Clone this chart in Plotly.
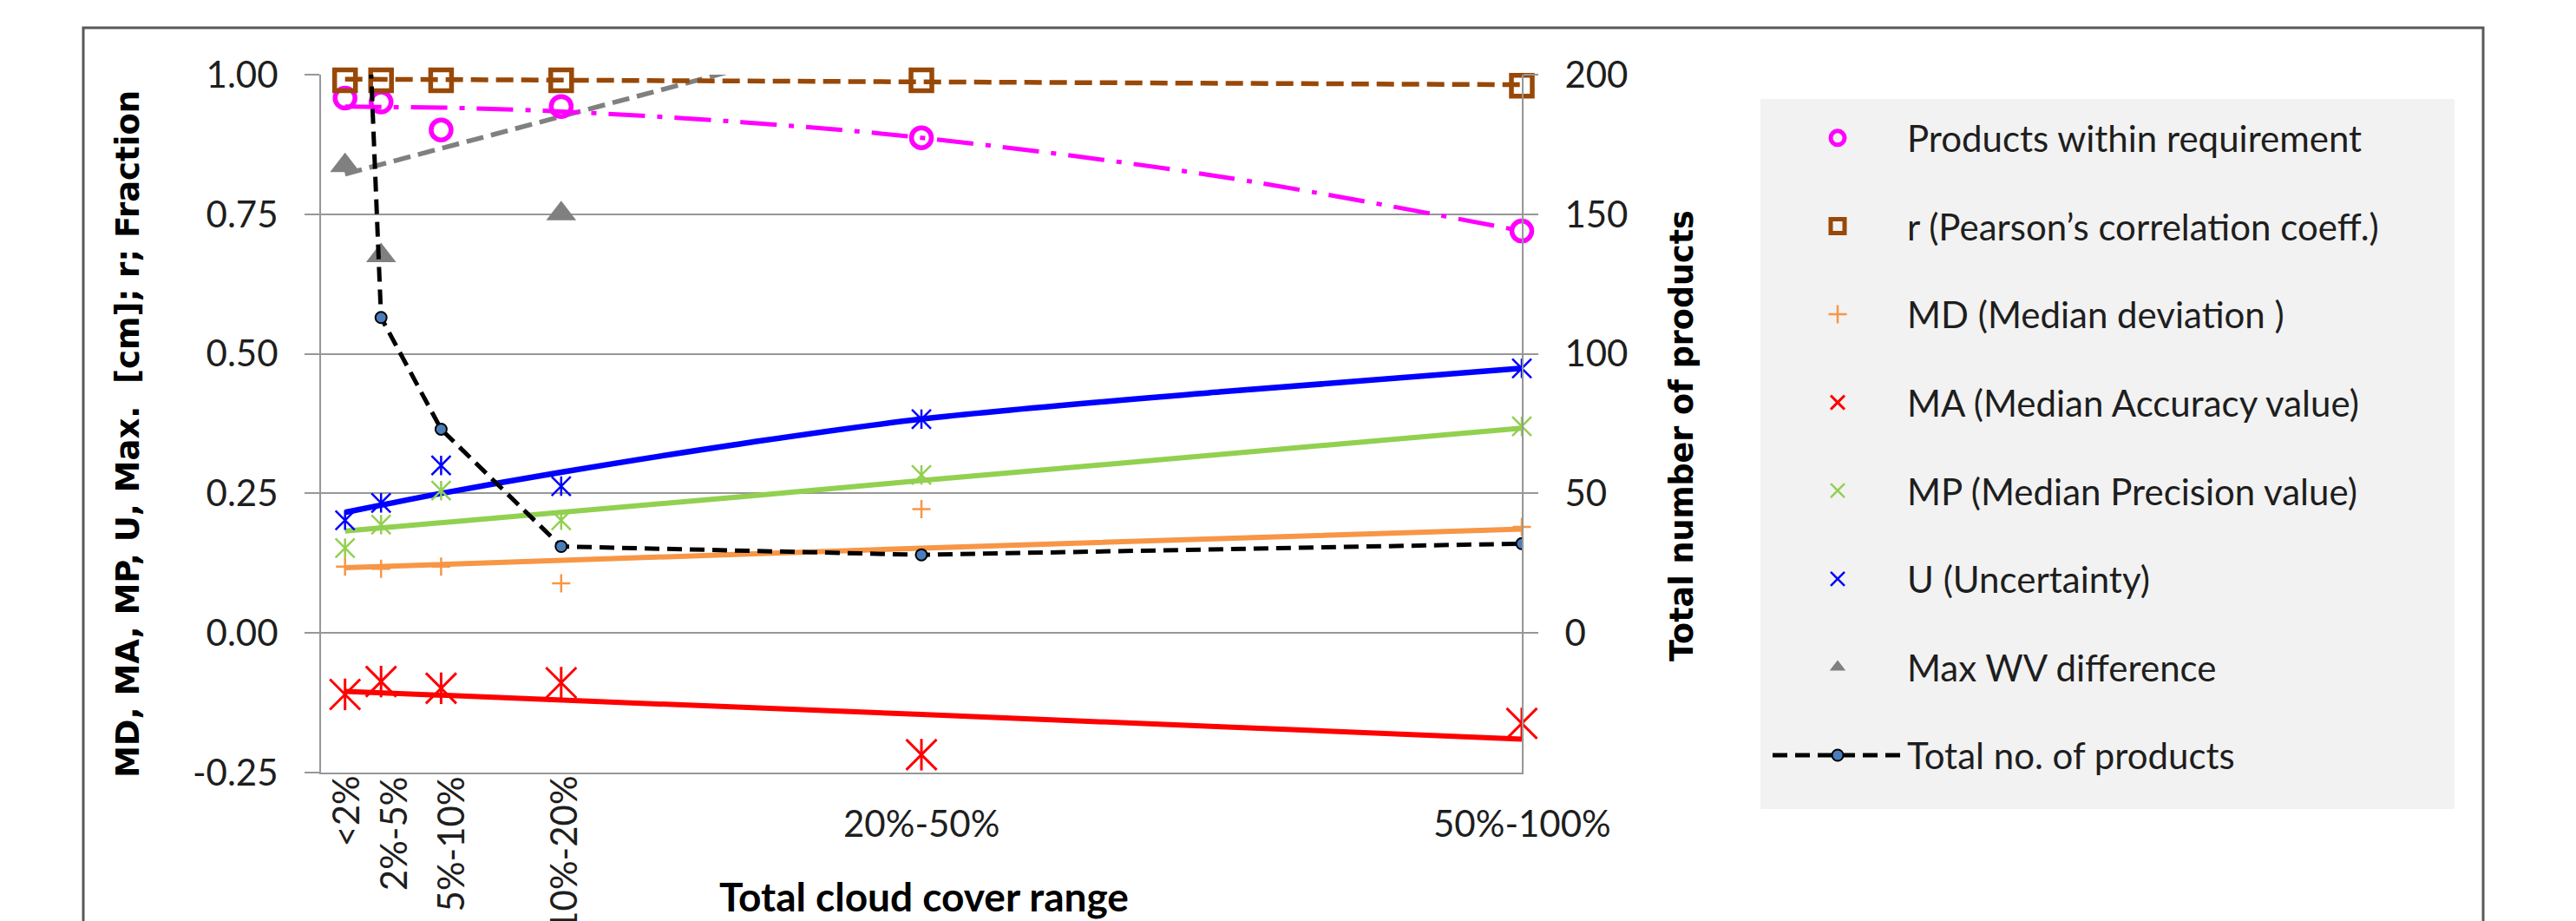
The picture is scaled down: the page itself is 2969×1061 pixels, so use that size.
import plotly.graph_objects as go

# ---------------- data ----------------
CATEGORIES = ["<2%", "2%-5%", "5%-10%", "10%-20%", "20%-50%", "50%-100%"]
CLOUD_UPPER = [2, 5, 10, 20, 50, 100]          # x position of each range (upper bound, %)

PRODUCTS_WITHIN = [0.958, 0.951, 0.901, 0.943, 0.887, 0.720]
PEARSON_R = [0.99, 0.99, 0.99, 0.99, 0.99, 0.98]
MD_VALUES = [0.119, 0.115, 0.119, 0.089, 0.222, 0.190]
MA_VALUES = [-0.110, -0.087, -0.099, -0.089, -0.218, -0.162]
MP_VALUES = [0.152, 0.194, 0.255, 0.202, 0.283, 0.370]
U_VALUES = [0.202, 0.233, 0.300, 0.263, 0.383, 0.474]
MAX_WV_DIFF = [0.837, 0.676, None, 0.751, None, None]
TOTAL_PRODUCTS = [430, 113, 73, 31, 28, 32]

# trend lines as drawn in the reference (values read at these x positions)
TREND_X = [2, 5, 10, 20, 35, 50, 75, 100]
TREND_PRODUCTS = [0.943, 0.942, 0.941, 0.934, 0.915, 0.887, 0.817, 0.720]
TREND_R = [0.992, 0.9917, 0.9912, 0.9902, 0.9887, 0.9871, 0.9846, 0.982]
TREND_MD = [0.117, 0.119, 0.123, 0.130, 0.141, 0.152, 0.169, 0.186]
TREND_MA = [-0.1045, -0.107, -0.112, -0.120, -0.133, -0.146, -0.168, -0.190]
TREND_MP = [0.1825, 0.188, 0.197, 0.216, 0.244, 0.273, 0.320, 0.367]
TREND_U = [0.216, 0.229, 0.250, 0.288, 0.339, 0.383, 0.432, 0.474]
TREND_MAX_WV = [0.822, 0.839, 0.868, 0.925, 1.011, 1.097, 1.241, 1.384]

LEFT_TICKS = [-0.25, 0.0, 0.25, 0.5, 0.75, 1.0]
LEFT_TICK_TEXT = ["-0.25", "0.00", "0.25", "0.50", "0.75", "1.00"]
RIGHT_TICKS = [0, 50, 100, 150, 200]

# ---------------- styling ----------------
W, H = 2969, 1061
ML, MR, MT, MB = 362, W - 1746, 78, H - 882
PW, PH = W - ML - MR, H - MT - MB
def px_x(p):
    return (p - ML) / PW
def px_y(p):
    return (H - MB - p) / PH

CAL = "Lato, Carlito, Calibri, sans-serif"
BOLDW = "DejaVu Sans, Verdana, sans-serif"
TXT = "#1e1e1e"
GRID = "#979797"

MAGENTA, BROWN, ORANGE = "#FF00FF", "#984807", "#F79646"
RED, GREEN, BLUE, GRAY = "#FF0000", "#92D050", "#0000FF", "#808080"

LABEL_ROTATED = [True, True, True, True, False, False]
LABEL_XSHIFT = [0, 14, 11, 2, 0, 0]

fig = go.Figure()

def trend(y, color, dash, width, shape="linear"):
    fig.add_trace(go.Scatter(x=TREND_X, y=y, mode="lines", showlegend=False,
                             hoverinfo="skip", line=dict(color=color, width=width, dash=dash, shape=shape)))

trend(TREND_MAX_WV, GRAY, "20px,9px", 5.5)
trend(TREND_MD, ORANGE, "solid", 6)
trend(TREND_MA, RED, "solid", 6)
trend(TREND_MP, GREEN, "solid", 6)
trend(TREND_U, BLUE, "solid", 6.5, "spline")
trend(TREND_PRODUCTS, MAGENTA, "42px,14px,6px,14px", 5, "spline")
trend(TREND_R, BROWN, "20px,9px", 5.5)

def pts(y, name, symbol, size, color, lw, group, extra=None):
    mk = dict(symbol=symbol, size=size, color=color, line=dict(color=color, width=lw))
    fig.add_trace(go.Scatter(x=CLOUD_UPPER, y=y, mode="markers", name=name, marker=mk,
                             legendgroup=group, cliponaxis=False))
    if extra:
        fig.add_trace(go.Scatter(x=CLOUD_UPPER, y=y, mode="markers", showlegend=False,
                                 legendgroup=group, cliponaxis=False,
                                 marker=dict(symbol="line-ns-open", size=extra, color=color,
                                             line=dict(color=color, width=lw))))

pts(PRODUCTS_WITHIN, "Products within requirement", "circle-open", 23, MAGENTA, 5.5, "g1")
pts(PEARSON_R, "r (Pearson’s correlation coeff.)", "square-open", 24, BROWN, 5.5, "g2")
pts(MD_VALUES, "MD (Median deviation )", "cross-thin-open", 15, ORANGE, 2.5, "g3")
pts(MA_VALUES, "MA (Median Accuracy value)", "x-thin-open", 35, RED, 3, "g4", extra=26)
pts(MP_VALUES, "MP (Median Precision value)", "x-thin-open", 22, GREEN, 2.5, "g5", extra=16)
pts(U_VALUES, "U (Uncertainty)", "x-thin-open", 22, BLUE, 2.5, "g6", extra=16)
pts(MAX_WV_DIFF, "Max WV difference", "triangle-up", 30, GRAY, 0, "g7")

fig.add_trace(go.Scatter(x=CLOUD_UPPER, y=TOTAL_PRODUCTS, yaxis="y2", mode="lines+markers",
                         name="Total no. of products", legendgroup="g8",
                         line=dict(color="black", width=5, dash="17px,9px"),
                         marker=dict(symbol="circle", size=13, color="#4A7EBB",
                                     line=dict(color="black", width=2))))

# ---------------- annotations ----------------
ann = []
for cat, xv, rot, xs in zip(CATEGORIES, CLOUD_UPPER, LABEL_ROTATED, LABEL_XSHIFT):
    if rot:
        ann.append(dict(x=xv, xref="x", y=px_y(884), yref="paper", text=cat, textangle=-90,
                        xanchor="center", yanchor="top", xshift=xs, showarrow=False,
                        font=dict(family=CAL, size=42, color=TXT)))
    else:
        ann.append(dict(x=xv, xref="x", y=px_y(940), yref="paper", text=cat,
                        xanchor="center", yanchor="middle", showarrow=False,
                        font=dict(family=CAL, size=42, color=TXT)))

ann.append(dict(x=px_x(1057), y=px_y(1024), xref="paper", yref="paper",
                text="<b>Total cloud cover range</b>", showarrow=False,
                xanchor="center", yanchor="middle", font=dict(family=CAL, size=46, color="black")))
ann.append(dict(x=px_x(139), y=px_y(492), xref="paper", yref="paper", textangle=-90,
                text="<b>MD, MA, MP, U, Max.  [cm]; r; Fraction</b>", showarrow=False,
                xanchor="center", yanchor="middle", font=dict(family=BOLDW, size=37, color="black")))
ann.append(dict(x=px_x(1930), y=px_y(494), xref="paper", yref="paper", textangle=-90,
                text="<b>Total number of products</b>", showarrow=False,
                xanchor="center", yanchor="middle", font=dict(family=BOLDW, size=36.5, color="black")))

shapes = [
    dict(type="rect", xref="paper", yref="paper", x0=px_x(2021), x1=px_x(2821),
         y0=px_y(924), y1=px_y(106), fillcolor="#F2F2F2", line=dict(width=0), layer="below"),
    dict(type="rect", xref="paper", yref="paper", x0=px_x(88), x1=px_x(2854),
         y0=px_y(1100), y1=px_y(24), line=dict(color="#595959", width=3), fillcolor="rgba(0,0,0,0)"),
]

fig.update_layout(
    width=W, height=H,
    margin=dict(l=ML, r=MR, t=MT, b=MB, autoexpand=False),
    paper_bgcolor="white", plot_bgcolor="white",
    showlegend=True,
    legend=dict(x=px_x(2030), y=px_y(117), xanchor="left", yanchor="top",
                bgcolor="rgba(0,0,0,0)", font=dict(family=CAL, size=42, color=TXT),
                itemwidth=150, tracegroupgap=44, traceorder="grouped", itemsizing="trace"),
    xaxis=dict(range=[0, 100], showticklabels=False, showgrid=False, zeroline=False,
               showline=True, linecolor=GRID, linewidth=2, ticks=""),
    yaxis=dict(range=[-0.25, 1.0], tickvals=LEFT_TICKS, ticktext=LEFT_TICK_TEXT,
               showgrid=True, gridcolor=GRID, gridwidth=2, zeroline=False,
               showline=True, linecolor=GRID, linewidth=2, ticks="outside", ticklen=17,
               tickcolor=GRID, tickwidth=2, ticklabelstandoff=22,
               tickfont=dict(family=CAL, size=42, color=TXT)),
    yaxis2=dict(range=[-50, 200], tickvals=RIGHT_TICKS, overlaying="y", side="right",
                showgrid=False, zeroline=False, showline=True, linecolor=GRID, linewidth=2,
                ticks="outside", ticklen=17, tickcolor=GRID, tickwidth=2, ticklabelstandoff=22,
                tickfont=dict(family=CAL, size=42, color=TXT)),
    annotations=ann, shapes=shapes,
)

fig.write_html("out.html")
